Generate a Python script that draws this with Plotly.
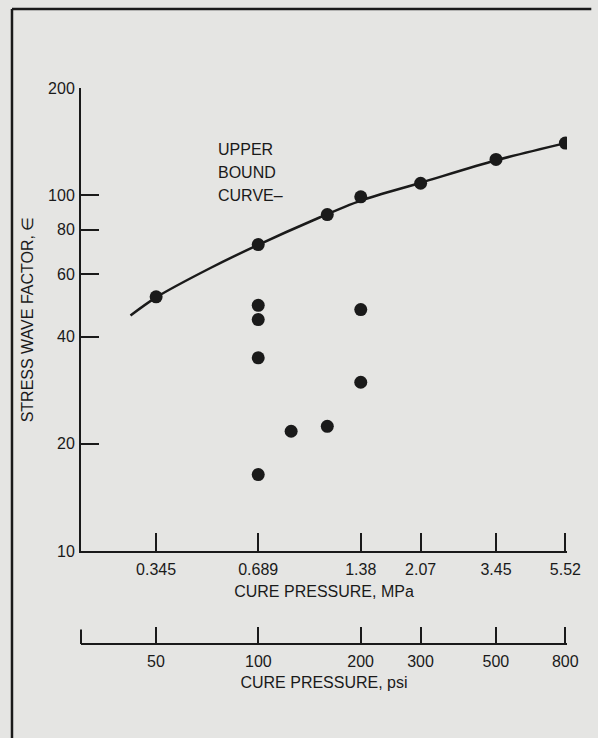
import plotly.graph_objects as go
import math

# ---- data ----
# upper-bound data points (MPa, stress wave factor)
upper_mpa = [0.345, 0.689, 1.10, 1.38, 2.07, 3.45, 5.52]
upper_val = [51.8, 72.6, 88.2, 98.9, 108.0, 126.0, 140.0]

# other measured points
other_mpa = [0.689, 0.689, 0.689, 0.689, 0.861, 1.10, 1.38, 1.38]
other_val = [49.0, 44.7, 34.9, 16.4, 21.7, 22.4, 47.7, 29.8]

# smooth upper bound curve
curve_mpa = [0.29, 0.345, 0.5, 0.689, 1.0, 1.38, 2.07, 3.45, 5.52]
curve_val = [45.9, 51.6, 62.5, 72.5, 85.0, 96.5, 108.3, 125.3, 140.0]

# axis ticks
mpa_ticks = [0.345, 0.689, 1.38, 2.07, 3.45, 5.52]
mpa_labels = ["0.345", "0.689", "1.38", "2.07", "3.45", "5.52"]
psi_ticks = [50, 100, 200, 300, 500, 800]
psi_labels = ["50", "100", "200", "300", "500", "800"]
y_ticks = [10, 20, 40, 60, 80, 100, 200]
y_labels = ["10", "20", "40", "60", "80", "100", "200"]

annot_lines = ["UPPER", "BOUND", "CURVE\u2013"]
annot_vals = [134, 116, 100]
annot_mpa = 0.518

PSI_PER_MPA = 145.04
mpa_range = [0.2074, 5.58]

INK = "#1a1a1a"
BG = "#e5e5e3"
FONT = "Liberation Sans, Arial, sans-serif"

fig = go.Figure()

fig.add_trace(go.Scatter(
    x=curve_mpa, y=curve_val, mode="lines",
    line=dict(color=INK, width=2.5, shape="spline", smoothing=0.8),
    hoverinfo="skip", showlegend=False))

fig.add_trace(go.Scatter(
    x=upper_mpa, y=upper_val, mode="markers",
    marker=dict(color=INK, size=13), showlegend=False))

fig.add_trace(go.Scatter(
    x=other_mpa, y=other_val, mode="markers",
    marker=dict(color=INK, size=13), showlegend=False))

# invisible trace to activate psi axis
fig.add_trace(go.Scatter(
    x=psi_ticks, y=[y_ticks[0]] * len(psi_ticks), mode="markers",
    marker=dict(opacity=0), xaxis="x2", hoverinfo="skip", showlegend=False))

axis_font = dict(family=FONT, size=16, color=INK)

fig.update_layout(
    width=598, height=738,
    margin=dict(l=81, r=31, t=88, b=94, autoexpand=False),
    paper_bgcolor=BG, plot_bgcolor=BG,
    font=dict(family=FONT, size=16, color=INK),
    xaxis=dict(
        type="log",
        range=[math.log10(mpa_range[0]), math.log10(mpa_range[1])],
        tickvals=mpa_ticks, ticktext=mpa_labels,
        ticks="inside", ticklen=18, tickwidth=2, tickcolor=INK,
        showline=True, linecolor=INK, linewidth=2,
        showgrid=False, zeroline=False, mirror=False,
        tickfont=axis_font, ticklabelstandoff=3,
        title=dict(text="CURE PRESSURE, MPa", font=axis_font, standoff=9),
        anchor="y", automargin=False,
    ),
    xaxis2=dict(
        type="log", overlaying="x", anchor="free", position=0, side="bottom",
        range=[math.log10(mpa_range[0] * PSI_PER_MPA), math.log10(mpa_range[1] * PSI_PER_MPA)],
        tickvals=psi_ticks, ticktext=psi_labels,
        ticks="inside", ticklen=16, tickwidth=2, tickcolor=INK,
        showline=True, linecolor=INK, linewidth=2,
        showgrid=False, zeroline=False,
        tickfont=axis_font, ticklabelstandoff=3,
        title=dict(text="CURE PRESSURE, psi", font=axis_font, standoff=7),
        automargin=False,
    ),
    yaxis=dict(
        type="log", domain=[0.1673, 1],
        range=[math.log10(y_ticks[0]), math.log10(y_ticks[-1])],
        tickvals=y_ticks, ticktext=y_labels,
        ticks="inside", ticklen=18, tickwidth=2, tickcolor=INK,
        showline=True, linecolor=INK, linewidth=2,
        showgrid=False, zeroline=False, mirror=False,
        tickfont=axis_font, ticklabelstandoff=1,
        title=dict(text="STRESS WAVE FACTOR, \u2208", font=axis_font, standoff=10),
        automargin=False,
    ),
)

for txt, v in zip(annot_lines, annot_vals):
    fig.add_annotation(
        x=math.log10(annot_mpa), y=math.log10(v), xref="x", yref="y",
        text=txt, showarrow=False, xanchor="left", yanchor="middle",
        font=dict(family=FONT, size=16, color=INK))

# left-end tick of the psi scale and the outer frame
fig.add_shape(type="line", xref="paper", yref="paper",
              x0=0, x1=0, y0=0, y1=0.026, line=dict(color=INK, width=2))
fig.add_shape(type="line", xref="paper", yref="paper",
              x0=-0.142, x1=-0.142, y0=1.142, y1=-0.2, line=dict(color=INK, width=2.5))
fig.add_shape(type="line", xref="paper", yref="paper",
              x0=-0.142, x1=1.05, y0=1.142, y1=1.142, line=dict(color=INK, width=2.5))

fig.write_html("out.html")
